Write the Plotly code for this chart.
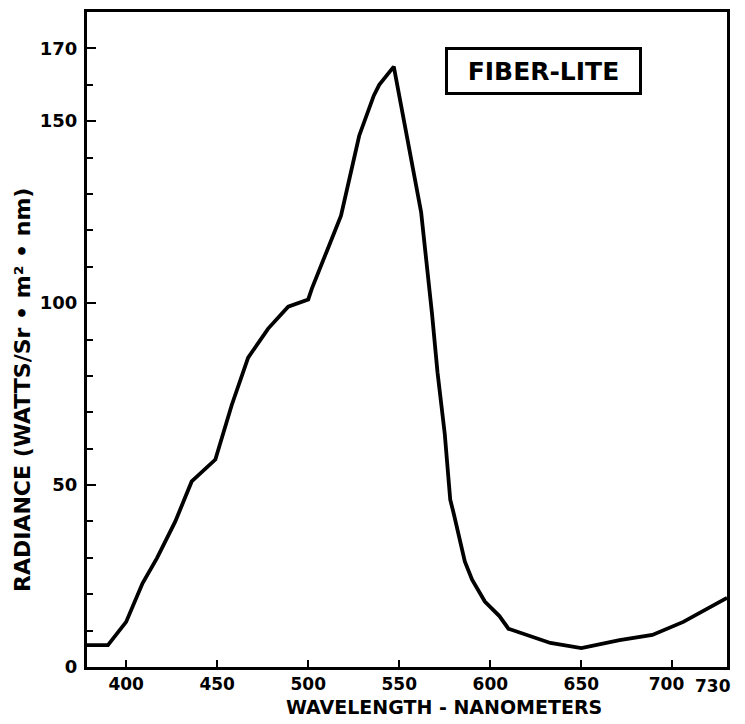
import plotly.graph_objects as go

# Data (wavelength in nm, radiance)
wavelength = [378, 390, 400, 409, 417, 427, 436, 449, 458, 467, 478, 489, 500, 502,
              510, 518, 523, 528, 536, 539, 547, 553, 558, 562, 568, 571, 575, 578,
              580, 586, 590, 597, 605, 610, 633, 650, 671, 689, 706, 730]
radiance = [6, 6, 12.4, 23, 30, 40, 51, 57, 72, 85, 93, 99, 101, 104,
            114, 124, 135, 146, 157, 160, 165, 149, 137, 125, 97, 81, 64, 46,
            42, 29, 24, 18, 14, 10.5, 6.6, 5.2, 7.4, 8.8, 12.4, 19]

x_ticks = [400, 450, 500, 550, 600, 650, 700, 730]
x_labels = ["400", "450", "500", "550", "600", "650", "700\u00a0\u00a0", ""]
edge_tick = x_ticks[-1]
edge_label = str(edge_tick)
y_ticks = [0, 50, 100, 150, 170]
y_minor = [10, 20, 30, 40, 60, 70, 80, 90, 110, 120, 130, 140, 160]

FONT = "DejaVu Sans, sans-serif"
OFF = 8  # page body margin offset
W, H = 745, 724
L, R, T, B = 87 - OFF, 745 - 727 + OFF, 12 - OFF, 724 - 667 + OFF
PW, PH = W - L - R, H - T - B


def px(xp):
    return (xp - OFF - L) / PW


def py(yp):
    return (H - B - (yp - OFF)) / PH


fig = go.Figure()
fig.add_trace(go.Scatter(
    x=wavelength, y=radiance, mode="lines",
    line=dict(color="black", width=3.8),
    showlegend=False, hoverinfo="skip"))

fig.update_layout(
    width=W, height=H,
    margin=dict(l=L, r=R, t=T, b=B),
    paper_bgcolor="white", plot_bgcolor="white",
    font=dict(family=FONT, color="black"),
    xaxis=dict(
        range=[378.5, 730], tickmode="array", tickvals=x_ticks,
        ticktext=x_labels,
        ticks="inside", ticklen=7, tickwidth=2, tickcolor="black",
        showline=True, linecolor="black", linewidth=3, mirror=True,
        showgrid=False, zeroline=False, automargin=False,
        ticklabeloverflow="allow",
        tickfont=dict(family=FONT, size=17, weight="bold", color="black"),
    ),
    yaxis=dict(
        range=[0, 180], tickmode="array", tickvals=y_ticks,
        ticktext=[str(v) for v in y_ticks],
        ticks="inside", ticklen=9, tickwidth=2, tickcolor="black",
        minor=dict(tickmode="array", tickvals=y_minor, ticks="inside",
                   ticklen=6, tickwidth=2, tickcolor="black", showgrid=False),
        showline=True, linecolor="black", linewidth=3, mirror=True,
        showgrid=False, zeroline=False, automargin=False,
        ticklabeloverflow="allow",
        tickfont=dict(family=FONT, size=18, weight="bold", color="black"),
        ticklabelstandoff=3,
    ),
    annotations=[
        dict(text=edge_label, xref="x", yref="paper",
             x=edge_tick, y=py(686), xanchor="right", yanchor="middle",
             xshift=6, showarrow=False,
             font=dict(family=FONT, size=17, weight="bold", color="black")),
        dict(text="FIBER-LITE", xref="paper", yref="paper",
             x=px(543), y=py(71),
             xanchor="center", yanchor="middle", showarrow=False,
             font=dict(family=FONT, size=25, weight="bold", color="black"),
             bordercolor="black", borderwidth=3, borderpad=3, bgcolor="white",
             width=185, height=36),
        dict(text="WAVELENGTH - NANOMETERS", xref="paper", yref="paper",
             x=px(444), y=py(707),
             xanchor="center", yanchor="middle", showarrow=False,
             font=dict(family=FONT, size=19, weight="bold", color="black")),
        dict(text="RADIANCE (WATTS/Sr • m² • nm)", xref="paper", yref="paper",
             x=px(23), y=py(390), textangle=-90,
             xanchor="center", yanchor="middle", showarrow=False,
             font=dict(family=FONT, size=22, weight="bold", color="black")),
    ],
)

fig.write_html("out.html")
